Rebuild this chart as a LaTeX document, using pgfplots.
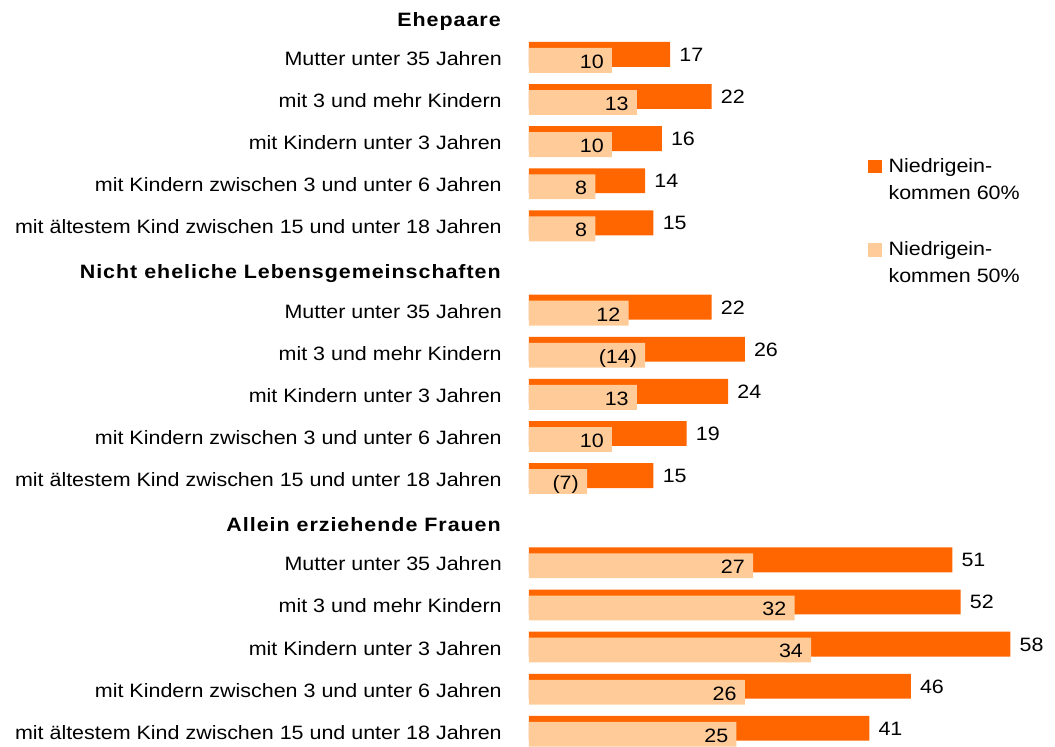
\documentclass[border=0pt]{standalone}
\usepackage{fontspec}
\setmainfont{Liberation Sans}[FakeStretch=1.11, BoldFeatures={LetterSpace=5}]
\usepackage{pgfplots}
\pgfplotsset{compat=1.18}
\definecolor{darkor}{HTML}{FF6600}
\definecolor{lightor}{HTML}{FFCC99}
\newcommand{\chartfont}{\fontsize{14.5}{20.25}\selectfont}
\begin{document}
\chartfont
\begin{tikzpicture}
\begin{axis}[
  at={(0,0)}, anchor=south west,
  scale only axis, width=373.5pt, height=559.5pt,
  xmin=0, xmax=60, ymin=-0.363, ymax=17.348, y dir=reverse,
  xbar, bar width=0.59, bar shift=0pt,
  hide x axis,
  axis line style={draw=none}, major tick length=0pt,
  ytick={0,...,17}, ytick pos=left,
  yticklabels={
    {\raisebox{-2.2pt}{\textbf{Ehepaare}}},
    Mutter unter 35 Jahren,
    mit 3 und mehr Kindern,
    mit Kindern unter 3 Jahren,
    mit Kindern zwischen 3 und unter 6 Jahren,
    mit ältestem Kind zwischen 15 und unter 18 Jahren,
    {\raisebox{-2.2pt}{\textbf{Nicht eheliche Lebensgemeinschaften}}},
    Mutter unter 35 Jahren,
    mit 3 und mehr Kindern,
    mit Kindern unter 3 Jahren,
    mit Kindern zwischen 3 und unter 6 Jahren,
    mit ältestem Kind zwischen 15 und unter 18 Jahren,
    {\raisebox{-2.2pt}{\textbf{Allein erziehende Frauen}}},
    Mutter unter 35 Jahren,
    mit 3 und mehr Kindern,
    mit Kindern unter 3 Jahren,
    mit Kindern zwischen 3 und unter 6 Jahren,
    mit ältestem Kind zwischen 15 und unter 18 Jahren},
  yticklabel style={anchor=base east, inner sep=0pt, xshift=-20.25pt, yshift=-5.95pt, font=\chartfont},
  clip=false,
  point meta=explicit symbolic,
  nodes near coords,
  every node near coord/.append style={font=\chartfont, inner sep=0pt, text=black},
  legend cell align=left,
  legend style={draw=none, fill=none, inner sep=0pt, at={(0.6807,0.7882)}, anchor=north west,
    row sep=29.5pt, column sep=5.25pt,
    nodes={align=left, inner sep=0pt, font=\chartfont}},
]
\addplot[fill=darkor, draw=none,
  nodes near coords style={anchor=base west, xshift=6.75pt, yshift=-5.2pt},
  legend image code/.code={\fill[darkor] (0pt,5.2pt) rectangle (10pt,15.2pt);}]
coordinates {
 (17,0.928) [17] (22,1.928) [22] (16,2.928) [16] (14,3.928) [14] (15,4.928) [15]
 (22,6.928) [22] (26,7.928) [26] (24,8.928) [24] (19,9.928) [19] (15,10.928) [15]
 (51,12.928) [51] (52,13.928) [52] (58,14.928) [58] (46,15.928) [46] (41,16.928) [41]
};
\addlegendentry{Niedrigein-\\kommen 60\%}
\addplot[fill=lightor, draw=none,
  nodes near coords style={anchor=base east, xshift=-6pt, yshift=-5.95pt},
  legend image code/.code={\fill[lightor] (0pt,5.2pt) rectangle (10pt,15.2pt);}]
coordinates {
 (10,1.07) [10] (13,2.07) [13] (10,3.07) [10] (8,4.07) [8] (8,5.07) [8]
 (12,7.07) [12] (14,8.07) [(14)] (13,9.07) [13] (10,10.07) [10] (7,11.07) [(7)]
 (27,13.07) [27] (32,14.07) [32] (34,15.07) [34] (26,16.07) [26] (25,17.07) [25]
};
\addlegendentry{Niedrigein-\\kommen 50\%}
\end{axis}
\pgfresetboundingbox
\path[use as bounding box] (-396.75pt,0pt) rectangle (394.5pt,559.5pt);
\end{tikzpicture}
\end{document}
